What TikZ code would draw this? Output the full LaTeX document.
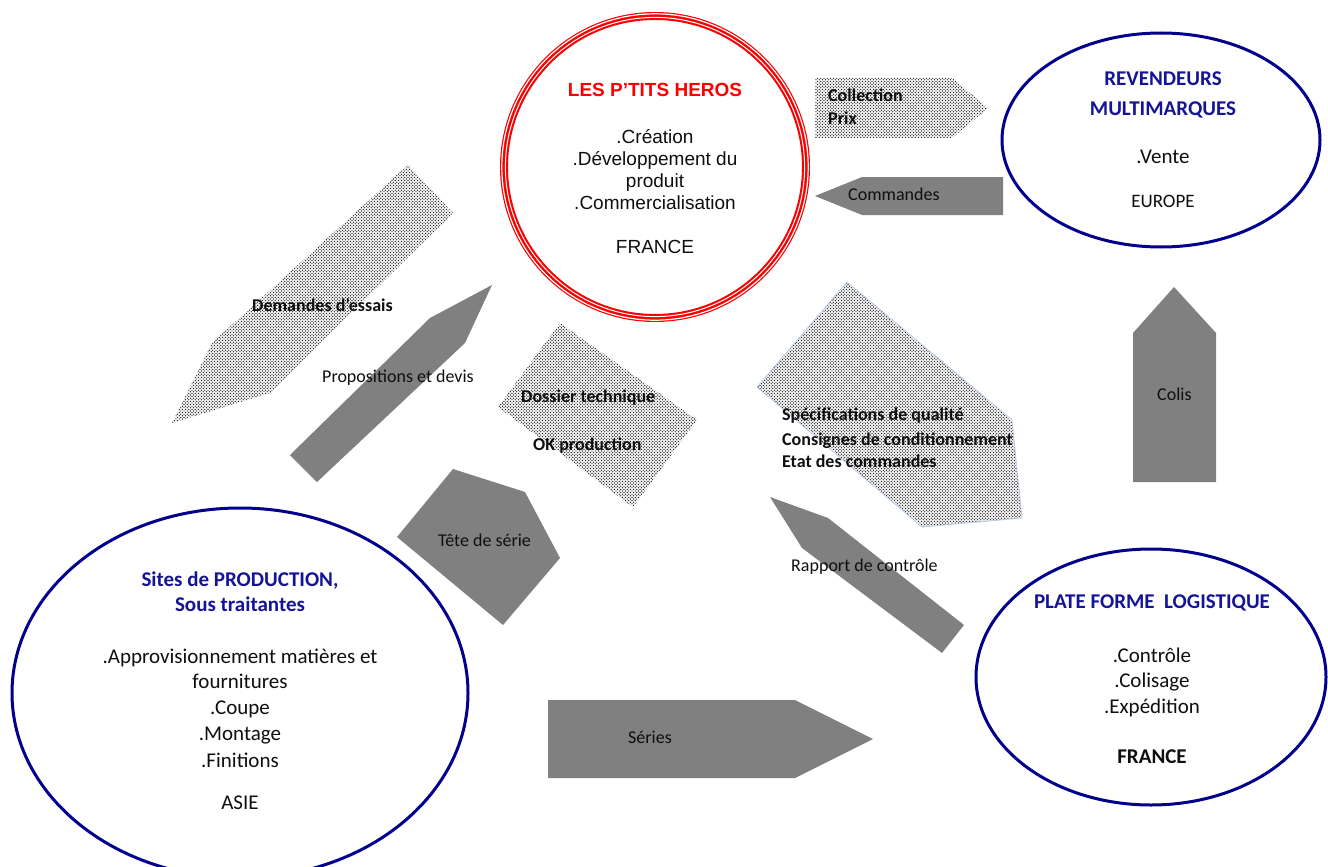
\documentclass[tikz,border=0pt]{standalone}
\usepackage{fontspec}
\setmainfont{Carlito}
\newfontfamily\arialf{Liberation Sans}
\usetikzlibrary{patterns,shapes.geometric}
\pgfdeclarepatternformonly{mydots}{\pgfqpoint{-1pt}{-1pt}}{\pgfqpoint{2.6pt}{2.6pt}}{\pgfqpoint{3.2pt}{3.2pt}}{%
  \pgfpathcircle{\pgfqpoint{0pt}{0pt}}{0.68pt}%
  \pgfpathcircle{\pgfqpoint{1.6pt}{1.6pt}}{0.68pt}%
  \pgfusepath{fill}}
\definecolor{navy}{RGB}{0,0,140}
\definecolor{navytxt}{RGB}{20,20,150}
\definecolor{heroRed}{RGB}{250,0,0}
\definecolor{arrowGray}{RGB}{128,128,128}
\definecolor{txt}{RGB}{15,15,15}
\definecolor{edgeBlue}{RGB}{185,205,235}
\tikzset{
  graybox/.style={fill=arrowGray, draw=none},
  dotbox/.style={pattern=mydots, pattern color=black},
  lbl/.style={font=\fontsize{18}{22}\selectfont, text=txt, inner sep=0pt, anchor=base west},
  blbl/.style={lbl, font=\fontsize{18}{22}\selectfont\bfseries},
  etxt/.style={font=\fontsize{21}{25}\selectfont, text=txt, inner sep=0pt, anchor=base},
  etitle/.style={etxt, font=\fontsize{21}{25}\selectfont\bfseries, text=navytxt},
  ebold/.style={etxt, font=\fontsize{21}{25}\selectfont\bfseries},
  htxt/.style={font=\arialf\fontsize{19}{22}\selectfont, text=txt, inner sep=0pt, anchor=base},
  htitle/.style={htxt, font=\arialf\fontsize{19}{22}\selectfont\bfseries, text=heroRed},
  blueell/.style={ellipse, draw=navy, line width=3pt, inner sep=0pt}
}
\begin{document}
\begin{tikzpicture}[x=1pt,y=-1pt]
\useasboundingbox (0,0) rectangle (1328,867);
\clip (0,0) rectangle (1328,867);
\fill[white] (0,0) rectangle (1328,867);

% ---------- dotted block arrows ----------
\fill[dotbox] (815,78) -- (952,78) -- (988,108) -- (952,138) -- (815,138) -- cycle;
\fill[dotbox] (408,165) -- (453,213) -- (270,393) -- (172,423) -- (212,343) -- cycle;
\fill[dotbox] (560,323) -- (697,420) -- (633,507) -- (498,407) -- cycle;
\filldraw[dotbox, draw=edgeBlue, line width=0.8pt] (847,282) -- (1012,420) -- (1022,518) -- (922,527) -- (757,387) -- cycle;

% ---------- gray block arrows ----------
\fill[graybox] (1003,177) -- (862,177) -- (815,196) -- (862,215) -- (1003,215) -- cycle;
\fill[graybox] (290,455) -- (430,318) -- (492,285) -- (465,343) -- (317,482) -- cycle;
\fill[graybox] (453,469) -- (525,492) -- (560,558) -- (503,625) -- (397,537) -- cycle;
\fill[graybox] (770,497) -- (828,518) -- (964,625) -- (942,653) -- (802,548) -- cycle;
\fill[graybox] (1174,287) -- (1216,333) -- (1216,482) -- (1133,482) -- (1133,333) -- cycle;
\fill[graybox] (548,700) -- (795,700) -- (873,739) -- (795,778) -- (548,778) -- cycle;

% ---------- main entities ----------
\node[circle, minimum size=302pt, draw=heroRed, line width=8pt, inner sep=0pt] (heros) at (655,167) {};
\draw[white, line width=1.2pt] (heros.center) circle[radius=153.2pt];
\draw[white, line width=1pt] (heros.center) circle[radius=149.6pt];

\node[blueell, minimum width=318pt, minimum height=214pt] (rev) at (1161,140) {};
\node[blueell, minimum width=456pt, minimum height=370pt] (prod) at (240,693) {};
\node[blueell, minimum width=350pt, minimum height=256pt] (log) at (1151,677) {};

% ---------- texts: LES P'TITS HEROS ----------
\node[htitle] (h1) at (655,96) {LES P’TITS HEROS};
\node[htxt] (h2) at (655,143) {.Création};
\node[htxt] (h3) at (655,165) {.Développement du};
\node[htxt] (h4) at (655,187) {produit};
\node[htxt] (h5) at (655,209) {.Commercialisation};
\node[htxt] (h6) at (655,253) {FRANCE};

% ---------- texts: revendeurs ----------
\node[etitle] (r1) at (1163,85) {REVENDEURS};
\node[etitle] (r2) at (1163,115) {MULTIMARQUES};
\node[etxt] (r3) at (1163,163) {.Vente};
\node[etxt, font=\fontsize{19}{23}\selectfont] (r4) at (1163,207) {EUROPE};

% ---------- texts: production ----------
\node[etitle] (p1) at (240,586) {Sites de PRODUCTION,};
\node[etitle] (p2) at (240,611) {Sous traitantes};
\node[etxt] (p3) at (240,663) {.Approvisionnement matières et};
\node[etxt] (p4) at (240,688) {fournitures};
\node[etxt] (p5) at (240,714) {.Coupe};
\node[etxt] (p6) at (240,740) {.Montage};
\node[etxt] (p7) at (240,767) {.Finitions};
\node[etxt] (p8) at (240,809) {ASIE};

% ---------- texts: logistique ----------
\node[etitle] (l1) at (1152,608) {PLATE FORME\ \ LOGISTIQUE};
\node[etxt] (l2) at (1152,662) {.Contrôle};
\node[etxt] (l3) at (1152,687) {.Colisage};
\node[etxt] (l4) at (1152,713) {.Expédition};
\node[ebold] (l5) at (1152,763) {FRANCE};

% ---------- arrow labels ----------
\node[blbl] (a1) at (828,102) {Collection};
\node[blbl] (a2) at (828,124) {Prix};
\node[lbl] (a3) at (848,200) {Commandes};
\node[blbl] (a4) at (252,311) {Demandes d’essais};
\node[lbl] (a5) at (322,382) {Propositions et devis};
\node[blbl] (a6) at (521,402) {Dossier technique};
\node[blbl] (a7) at (533,450) {OK production};
\node[blbl] (a8) at (782,420) {Spécifications de qualité};
\node[blbl] (a9) at (782,445) {Consignes de conditionnement};
\node[blbl] (a10) at (782,467) {Etat des commandes};
\node[lbl] (a11) at (438,546) {Tête de série};
\node[lbl] (a12) at (791,571) {Rapport de contrôle};
\node[lbl] (a13) at (1157,400) {Colis};
\node[lbl] (a14) at (628,743) {Séries};
\end{tikzpicture}
\end{document}
